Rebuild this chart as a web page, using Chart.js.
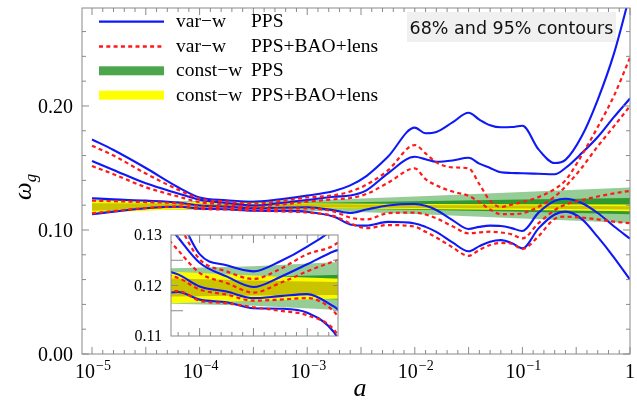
<!DOCTYPE html>
<html>
<head>
<meta charset="utf-8">
<script src="https://cdn.jsdelivr.net/npm/chart.js@4.4.1/dist/chart.umd.min.js"></script>
<style>
  body { margin: 0; background: #fff; }
  #wrap { position: relative; width: 637px; height: 403px; }
  #wrap canvas { position: absolute; }
  #mainChart { left: 0; top: 0; }
  #insetChart { left: 125px; top: 222px; }
</style>
</head>
<body>
<div id="wrap">
  <canvas id="mainChart" width="637" height="403"></canvas>
  <canvas id="insetChart" width="215" height="124"></canvas>
</div>
<script>
// valori, asse x in log10(a)
const logA = [-5, -4.8, -4.5, -4.2, -4.0, -3.75, -3.5, -3.25, -3.0, -2.75, -2.6, -2.45, -2.25, -2.0, -1.9,
              -1.8, -1.65, -1.5, -1.4, -1.3, -1.2, -1.1, -1.0, -0.85, -0.7, -0.6, -0.45, -0.3, -0.15, 0];

// var-w PPS (blu, linea continua)
const ppsUp95 = [0.173, 0.1645, 0.150, 0.1345, 0.1262, 0.124, 0.1228, 0.1248, 0.1277, 0.1315, 0.136, 0.1435, 0.159, 0.1825, 0.178,
                 0.1790, 0.1867, 0.1945, 0.189, 0.1845, 0.1828, 0.183, 0.1840, 0.165, 0.154, 0.1565, 0.1753, 0.205, 0.242, 0.29];
const ppsUp68 = [0.1556, 0.1484, 0.1376, 0.1295, 0.1245, 0.1218, 0.1197, 0.1217, 0.1242, 0.1268, 0.1278, 0.132, 0.1457, 0.159, 0.157,
                 0.155, 0.156, 0.1582, 0.1535, 0.150, 0.1465, 0.146, 0.1457, 0.1453, 0.1449, 0.150, 0.1618, 0.175, 0.191, 0.206];
const ppsLo68 = [0.1256, 0.1247, 0.1237, 0.1222, 0.1198, 0.1188, 0.1175, 0.1179, 0.1183, 0.1158, 0.1137, 0.1165, 0.1198, 0.1210, 0.1195,
                 0.1161, 0.108, 0.1008, 0.1025, 0.1035, 0.1032, 0.1015, 0.0992, 0.1140, 0.1235, 0.1252, 0.1218, 0.1137, 0.103, 0.093];
const ppsLo95 = [0.1127, 0.1148, 0.1175, 0.1187, 0.1172, 0.1167, 0.1155, 0.1154, 0.1146, 0.1107, 0.1045, 0.1035, 0.1065, 0.1053, 0.1025,
                 0.0985, 0.0900, 0.0828, 0.0870, 0.0906, 0.0918, 0.0895, 0.0852, 0.1013, 0.1125, 0.1148, 0.109, 0.0944, 0.078, 0.060];

// var-w PPS+BAO+lens (rosso, tratteggiato)
const allUp95 = [0.168, 0.160, 0.1455, 0.1325, 0.1252, 0.1228, 0.1213, 0.1233, 0.1262, 0.128, 0.131, 0.1365, 0.148, 0.1685, 0.1618,
                 0.1545, 0.1505, 0.1497, 0.137, 0.1235, 0.1185, 0.1205, 0.1225, 0.1265, 0.133, 0.140, 0.160, 0.183, 0.208, 0.239];
const allUp68 = [0.1516, 0.145, 0.1345, 0.1270, 0.1225, 0.1205, 0.1186, 0.1205, 0.1228, 0.1248, 0.1258, 0.129, 0.138, 0.1497, 0.141,
                 0.136, 0.131, 0.1275, 0.1225, 0.1165, 0.1128, 0.1128, 0.1135, 0.1188, 0.1269, 0.135, 0.150, 0.1675, 0.1835, 0.200];
const allLo68 = [0.1237, 0.1232, 0.1225, 0.1215, 0.1192, 0.1182, 0.1170, 0.1172, 0.1175, 0.1148, 0.1100, 0.1085, 0.1135, 0.1140, 0.1125,
                 0.1094, 0.1030, 0.0973, 0.0980, 0.0986, 0.0980, 0.0965, 0.0932, 0.1055, 0.1160, 0.1205, 0.1240, 0.1270, 0.1295, 0.1315];
const allLo95 = [0.1134, 0.1152, 0.1177, 0.1189, 0.1170, 0.1165, 0.1157, 0.1150, 0.1141, 0.1112, 0.1054, 0.1015, 0.1040, 0.1027, 0.0985,
                 0.0940, 0.0860, 0.0792, 0.0840, 0.0879, 0.0895, 0.0890, 0.0847, 0.0950, 0.1090, 0.1107, 0.1100, 0.1085, 0.1067, 0.1055];

// const-w: bande (verde = PPS, giallo = PPS+BAO+lens)
const bandLogA = [-5, -4.25, -3.5, -2.75, -2, -1, 0];
const constPpsHi95 = [0.1244, 0.1234, 0.1238, 0.1246, 0.1270, 0.1306, 0.1342];
const constPpsLo95 = [0.1154, 0.1164, 0.1160, 0.1152, 0.1128, 0.1092, 0.1057];
const constPpsHi68 = [0.1218, 0.1215, 0.1217, 0.1221, 0.1231, 0.1245, 0.1257];
const constPpsLo68 = [0.1176, 0.1179, 0.1177, 0.1173, 0.1163, 0.1147, 0.1127];
const constAllHi95 = [0.1237, 0.1227, 0.1220, 0.1214, 0.1210, 0.1208, 0.1205];
const constAllLo95 = [0.1134, 0.1165, 0.1170, 0.1174, 0.1170, 0.1162, 0.1151];
const constAllHi68 = [0.1216, 0.1214, 0.1210, 0.1207, 0.1202, 0.1197, 0.1191];
const constAllLo68 = [0.1156, 0.1178, 0.1180, 0.1181, 0.1178, 0.1173, 0.1165];

// etichette
const xTickExp = [-5, -4, -3, -2, -1, 0];
const yTickValues = [0, 0.1, 0.2];
const insetTickValues = [0.11, 0.12, 0.13];
const legendModel = ['var\u2212w', 'var\u2212w', 'const\u2212w', 'const\u2212w'];
const legendData = ['PPS', 'PPS+BAO+lens', 'PPS', 'PPS+BAO+lens'];
const noteText = '68% and 95% contours';

const BLUE = 'rgb(15,25,245)';
const RED = 'rgb(255,25,25)';
const LIGHT_GREEN = 'rgb(150,205,150)';
const DARK_GREEN = 'rgb(48,152,48)';
const YELLOW = 'rgb(250,250,0)';
const OLIVE = 'rgb(202,196,0)';
const FRAME = '#8a8a8a';
const SERIF = '"Liberation Serif", "DejaVu Serif", serif';

function pts(xs, ys) {
    return xs.map((v, i) => ({ x: v, y: ys[i] }));
}

function curve(ys, color, dash, width) {
    return {
        data: pts(logA, ys),
        borderColor: color,
        borderWidth: width,
        borderDash: dash,
        pointRadius: 0,
        fill: false,
        cubicInterpolationMode: 'monotone',
        order: 0
    };
}

function band(lo, hi, color, order) {
    const base = { borderColor: 'rgba(0,0,0,0)', borderWidth: 0, pointRadius: 0, tension: 0, order: order };
    return [
        Object.assign({ data: pts(bandLogA, lo), fill: false }, base),
        Object.assign({ data: pts(bandLogA, hi), fill: '-1', backgroundColor: color }, base)
    ];
}

function buildDatasets() {
    const dash = [4, 3.3];
    return [
        curve(allUp95, RED, dash, 2.2),
        curve(allUp68, RED, dash, 2.2),
        curve(allLo68, RED, dash, 2.2),
        curve(allLo95, RED, dash, 2.2),
        curve(ppsUp95, BLUE, [], 2.1),
        curve(ppsUp68, BLUE, [], 2.1),
        curve(ppsLo68, BLUE, [], 2.1),
        curve(ppsLo95, BLUE, [], 2.1),
        ...band(constAllLo68, constAllHi68, OLIVE, 1),
        ...band(constAllLo95, constAllHi95, YELLOW, 2),
        ...band(constPpsLo68, constPpsHi68, DARK_GREEN, 3),
        ...band(constPpsLo95, constPpsHi95, LIGHT_GREEN, 4)
    ];
}

// tacche verso l'interno su un lato
function tick(ctx, x1, y1, dx, dy) {
    ctx.beginPath();
    ctx.moveTo(x1, y1);
    ctx.lineTo(x1 + dx, y1 + dy);
    ctx.stroke();
}

function drawPow(ctx, px, baseY, e) {
    ctx.fillStyle = '#000';
    if (e === 0) {
        ctx.font = '20px ' + SERIF;
        ctx.textAlign = 'center';
        ctx.fillText('1', px, baseY);
        return;
    }
    const base = '10';
    const sup = '\u2212' + Math.abs(e);
    ctx.font = '20px ' + SERIF;
    const wb = ctx.measureText(base).width;
    ctx.font = '14px ' + SERIF;
    const ws = ctx.measureText(sup).width;
    const left = px - (wb + 1 + ws) / 2 + 1;
    ctx.textAlign = 'left';
    ctx.font = '20px ' + SERIF;
    ctx.fillText(base, left, baseY);
    ctx.font = '14px ' + SERIF;
    ctx.fillText(sup, left + wb + 1, baseY - 8);
}

const mainDecor = {
    id: 'mainDecor',
    beforeDraw(chart) {
        const ctx = chart.ctx;
        ctx.save();
        ctx.fillStyle = '#fff';
        ctx.fillRect(0, 0, chart.width, chart.height);
        ctx.restore();
    },
    afterDatasetsDraw(chart) {
        const { ctx, chartArea: ca, scales } = chart;
        const x = scales.x, y = scales.y;
        ctx.save();
        ctx.strokeStyle = FRAME;
        ctx.lineWidth = 1;
        ctx.strokeRect(ca.left, ca.top, ca.right - ca.left, ca.bottom - ca.top);

        // tacche asse x: ogni 0.1 decadi, lunghe ogni mezza decade
        for (let k = -50; k <= 0; k++) {
            const px = x.getPixelForValue(k / 10);
            const len = k % 5 === 0 ? 7 : 4;
            tick(ctx, px, ca.bottom, 0, -len);
            tick(ctx, px, ca.top, 0, len);
        }
        // tacche asse y ogni 0.02
        for (let k = 0; k <= 13; k++) {
            const py = y.getPixelForValue(k * 0.02);
            const len = k % 5 === 0 ? 7 : 4;
            tick(ctx, ca.left, py, len, 0);
            tick(ctx, ca.right, py, -len, 0);
        }

        // etichette
        ctx.fillStyle = '#000';
        ctx.font = '20px ' + SERIF;
        ctx.textAlign = 'right';
        yTickValues.forEach(v => {
            ctx.fillText(v.toFixed(2), ca.left - 9, y.getPixelForValue(v) + 7);
        });
        xTickExp.forEach(e => drawPow(ctx, x.getPixelForValue(e), 378, e));

        // titoli assi
        ctx.font = 'italic 26px ' + SERIF;
        ctx.textAlign = 'center';
        ctx.fillText('a', (ca.left + ca.right) / 2 + 4, 396);

        ctx.save();
        ctx.translate(31, 200);
        ctx.rotate(-Math.PI / 2);
        ctx.textAlign = 'left';
        ctx.font = 'italic 25px ' + SERIF;
        ctx.fillText('\u03c9', 0, 0);
        const wOmega = ctx.measureText('\u03c9').width;
        ctx.font = 'italic 17px ' + SERIF;
        ctx.fillText('g', wOmega, 5);
        ctx.restore();

        // legenda
        const rowY = [21.7, 46.5, 70.8, 95.2];
        for (let i = 0; i < 4; i++) {
            const cy = rowY[i];
            if (i < 2) {
                ctx.strokeStyle = i === 0 ? BLUE : RED;
                ctx.lineWidth = i === 0 ? 2.2 : 2.4;
                ctx.setLineDash(i === 0 ? [] : [4, 3.3]);
                ctx.beginPath();
                ctx.moveTo(99, cy);
                ctx.lineTo(164, cy);
                ctx.stroke();
                ctx.setLineDash([]);
            } else {
                ctx.fillStyle = i === 2 ? 'rgb(76,166,76)' : 'rgb(255,255,0)';
                ctx.fillRect(99, cy - 4.5, 65, 9);
            }
            ctx.fillStyle = '#000';
            ctx.font = '19.5px ' + SERIF;
            ctx.textAlign = 'left';
            ctx.fillText(legendModel[i], 176, cy + 5.5);
            ctx.fillText(legendData[i], 251, cy + 5.5);
        }

        // riquadro nota
        ctx.fillStyle = 'rgb(240,240,240)';
        ctx.fillRect(407, 12, 209, 30);
        ctx.fillStyle = '#111';
        ctx.font = '17.5px "DejaVu Sans", sans-serif';
        ctx.textAlign = 'center';
        ctx.fillText(noteText, 511.5, 34);
        ctx.restore();
    }
};

const insetDecor = {
    id: 'insetDecor',
    beforeDatasetsDraw(chart) {
        const { ctx, chartArea: ca } = chart;
        ctx.save();
        ctx.fillStyle = '#fff';
        ctx.fillRect(ca.left, ca.top, ca.right - ca.left, ca.bottom - ca.top);
        ctx.restore();
    },
    afterDatasetsDraw(chart) {
        const { ctx, chartArea: ca, scales } = chart;
        const x = scales.x, y = scales.y;
        ctx.save();
        ctx.strokeStyle = FRAME;
        ctx.lineWidth = 1;
        ctx.strokeRect(ca.left, ca.top, ca.right - ca.left, ca.bottom - ca.top);
        for (let k = -42; k <= -28; k++) {
            const px = x.getPixelForValue(k / 10);
            const len = k % 5 === 0 ? 8 : 4;
            tick(ctx, px, ca.bottom, 0, -len);
            tick(ctx, px, ca.top, 0, len);
        }
        [0.115, 0.12, 0.125].forEach(v => {
            const py = y.getPixelForValue(v);
            tick(ctx, ca.left, py, v === 0.12 ? 7 : 12, 0);
            tick(ctx, ca.right, py, -5, 0);
        });
        ctx.fillStyle = '#000';
        ctx.font = '16px ' + SERIF;
        ctx.textAlign = 'right';
        insetTickValues.forEach(v => {
            ctx.fillText(v.toFixed(2), ca.left - 9, y.getPixelForValue(v) + 5);
        });
        ctx.restore();
    }
};

function hiddenScales(xmin, xmax, ymin, ymax) {
    return {
        x: { type: 'linear', min: xmin, max: xmax, display: false },
        y: { type: 'linear', min: ymin, max: ymax, display: false }
    };
}

new Chart(document.getElementById('mainChart').getContext('2d'), {
    type: 'line',
    data: { datasets: buildDatasets() },
    options: {
        responsive: false,
        animation: false,
        events: [],
        layout: { autoPadding: false, padding: { left: 82, right: 7, top: 8, bottom: 49 } },
        scales: hiddenScales(-5.093, 0, 0, 0.279),
        plugins: { legend: { display: false }, tooltip: { enabled: false } }
    },
    plugins: [mainDecor]
});

// riquadro ingrandito: stessa scala in x, zoom in y
new Chart(document.getElementById('insetChart').getContext('2d'), {
    type: 'line',
    data: { datasets: buildDatasets() },
    options: {
        responsive: false,
        animation: false,
        events: [],
        layout: { autoPadding: false, padding: { left: 46, right: 2, top: 13, bottom: 10 } },
        scales: hiddenScales(-4.266, -2.714, 0.11, 0.13),
        plugins: { legend: { display: false }, tooltip: { enabled: false } }
    },
    plugins: [insetDecor]
});
</script>
</body>
</html>
